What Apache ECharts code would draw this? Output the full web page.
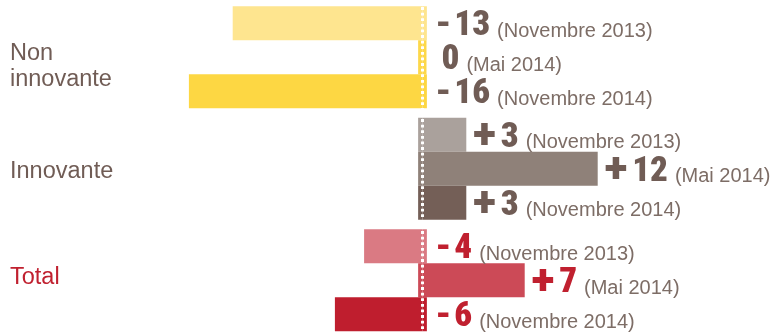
<!DOCTYPE html>
<html>
<head>
<meta charset="utf-8">
<script src="https://cdn.jsdelivr.net/npm/echarts@6/dist/echarts.min.js"></script>
<style>
  html, body { margin: 0; padding: 0; background: #ffffff; }
  #chart { width: 772px; height: 336px; }
</style>
</head>
<body>
<div id="chart"></div>
<script>
// Solde d'opinion par type d'entreprise, trois vagues d'enquête
const categories = ['Non\ninnovante', 'Innovante', 'Total'];
const periods = ['Novembre 2013', 'Mai 2014', 'Novembre 2014'];
const nov2013 = [-13, 3, -4];
const mai2014 = [0, 12, 7];
const nov2014 = [-16, 3, -6];

// colour of each bar: one row per group, one column per period
const barColors = [
  ['#fee58f', '#fdd84a', '#fdd743'],
  ['#aaa19c', '#8f8179', '#745f57'],
  ['#da7a83', '#cc4a57', '#bf1e2e']
];
const groupTextColors = ['#705c55', '#705c55', '#c0202f'];
const dateColor = '#7d6d66';

// bars run a little past the zero line so the dotted rule sits on them
const zeroOverlap = 0.3;

const seriesValues = [nov2013, mai2014, nov2014];

const numFont = 'Roboto, "Open Sans", sans-serif';
const textFont = '"Liberation Sans", Arial, sans-serif';

function labelText(v, period) {
  const sign = v > 0 ? '{p|+}' : (v < 0 ? '{m|-}' : '');
  return sign + '{n|' + Math.abs(v) + '}{d|(' + period + ')}';
}

function labelDistance(v) {
  if (v > 0) return 7;
  if (v < 0) return 13;
  return 15;
}

const chart = echarts.init(document.getElementById('chart'), null, { renderer: 'canvas' });

const series = [];
seriesValues.forEach(function (vals, si) {
  // main bars, carrying the value labels
  series.push({
    type: 'bar',
    name: periods[si],
    stack: 'p' + si,
    barWidth: 34,
    barGap: '0%',
    barMinHeight: 4,
    data: vals.map(function (v, ci) {
      return {
        value: v,
        itemStyle: { color: barColors[ci][si] },
        label: {
          distance: labelDistance(v),
          rich: {
            p: { color: groupTextColors[ci] },
            m: { color: groupTextColors[ci] },
            n: { color: groupTextColors[ci] }
          }
        }
      };
    }),
    label: {
      show: true,
      position: 'right',
      formatter: function (p) { return labelText(p.value, periods[si]); },
      rich: {
        p: {
          fontFamily: numFont,
          fontWeight: '900',
          fontSize: 42,
          lineHeight: 41,
          verticalAlign: 'middle',
          padding: [6, 5, 0, 0]
        },
        m: {
          fontFamily: numFont,
          fontWeight: '900',
          fontSize: 35,
          lineHeight: 41,
          verticalAlign: 'bottom',
          padding: [0, 3, 0, 0]
        },
        n: {
          fontFamily: numFont,
          fontWeight: '900 condensed',
          fontSize: 35,
          lineHeight: 41,
          verticalAlign: 'bottom'
        },
        d: {
          fontFamily: textFont,
          fontSize: 20,
          color: dateColor,
          lineHeight: 41,
          verticalAlign: 'bottom',
          padding: [0, 0, 2.4, 7]
        }
      }
    }
  });
  // short extension of each bar on the other side of zero
  series.push({
    type: 'bar',
    name: periods[si] + ' ',
    stack: 'p' + si,
    barWidth: 34,
    barGap: '0%',
    silent: true,
    data: vals.map(function (v, ci) {
      return {
        value: v < 0 ? zeroOverlap : -zeroOverlap,
        itemStyle: { color: barColors[ci][si] }
      };
    })
  });
});

// white dotted zero line drawn over the bars
series.push({
  type: 'line',
  data: [],
  z: 10,
  silent: true,
  markLine: {
    silent: true,
    symbol: 'none',
    label: { show: false },
    lineStyle: { color: '#ffffff', width: 3, type: [2.8, 2.8], cap: 'butt', opacity: 1 },
    data: [{ xAxis: 0 }]
  }
});

chart.setOption({
  animation: false,
  backgroundColor: '#ffffff',
  grid: { left: 130.5, width: 635.1, top: 1.5, height: 339 },
  xAxis: { type: 'value', min: -20, max: 23.5, show: false },
  yAxis: {
    type: 'category',
    inverse: true,
    data: categories,
    axisLine: { show: false },
    axisTick: { show: false },
    splitLine: { show: false },
    axisLabel: {
      align: 'left',
      margin: 120.5,
      formatter: function (value, index) {
        if (index === 0) return '{top|Non}\n{b|innovante}';
        if (index === 2) return '{red|' + value + '}';
        return '{one|' + value + '}';
      },
      rich: {
        top: { fontFamily: textFont, fontSize: 23.5, color: groupTextColors[0], lineHeight: 44, verticalAlign: 'bottom' },
        b: { fontFamily: textFont, fontSize: 23.5, color: groupTextColors[0], lineHeight: 28 },
        one: { fontFamily: textFont, fontSize: 23.5, color: groupTextColors[1], lineHeight: 30, verticalAlign: 'bottom' },
        red: { fontFamily: textFont, fontSize: 23.5, color: groupTextColors[2], lineHeight: 30, verticalAlign: 'top' }
      }
    }
  },
  series: series
});
</script>
</body>
</html>
